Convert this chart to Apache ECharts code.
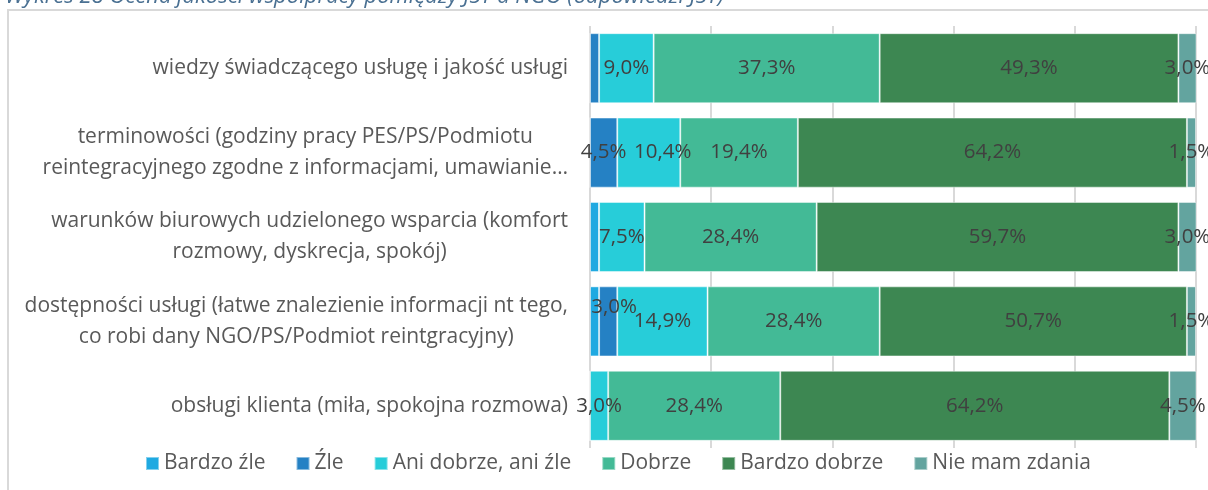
<!DOCTYPE html>
<html>
<head>
<meta charset="utf-8">
<script src="https://cdn.jsdelivr.net/npm/echarts@6/dist/echarts.min.js"></script>
<style>
  html, body { margin: 0; padding: 0; background: #fff; }
  #chart { width: 1208px; height: 490px; }
</style>
</head>
<body>
<div id="chart"></div>
<script>
// kategorie (od góry)
var categories = [
  'wiedzy świadczącego usługę i jakość usługi',
  'terminowości (godziny pracy PES/PS/Podmiotu\nreintegracyjnego zgodne z informacjami, umawianie…',
  'warunków biurowych udzielonego wsparcia (komfort\nrozmowy, dyskrecja, spokój)',
  'dostępności usługi (łatwe znalezienie informacji nt tego,\nco robi dany NGO/PS/Podmiot reintgracyjny)',
  'obsługi klienta (miła, spokojna rozmowa)'
];
var seriesNames = ['Bardzo źle', 'Źle', 'Ani dobrze, ani źle', 'Dobrze', 'Bardzo dobrze', 'Nie mam zdania'];
var bardzoZle = [0, 0, 1.5, 1.5, 0];
var zle = [1.5, 4.5, 0, 3.0, 0];
var aniDobrzeAniZle = [9.0, 10.4, 7.5, 14.9, 3.0];
var dobrze = [37.3, 19.4, 28.4, 28.4, 28.4];
var bardzoDobrze = [49.3, 64.2, 59.7, 50.7, 64.2];
var nieMamZdania = [3.0, 1.5, 3.0, 1.5, 4.5];
var xTicks = [0, 20, 40, 60, 80, 100];

var colors = ['#1FA9E1', '#2581C4', '#27CDD9', '#43BA96', '#3D8752', '#63A49F'];
var allData = [bardzoZle, zle, aniDobrzeAniZle, dobrze, bardzoDobrze, nieMamZdania];
var font = '"Open Sans", sans-serif';

var series = allData.map(function (arr, si) {
    return {
        name: seriesNames[si],
        type: 'bar',
        stack: 'total',
        barCategoryGap: '17%',
        itemStyle: { color: colors[si], borderColor: 'rgba(255,255,255,0.45)', borderWidth: 1 },
        data: arr.map(function (v, ci) {
            var item = { value: v };
            // etykiety 1,5% dla pierwszych dwóch kategorii nie są pokazane
            if (v === 0 || (si < 2 && v < 2)) {
                item.label = { show: false };
            }
            // przesunięte etykiety, jak w oryginale
            if (si === 1 && ci === 3) {
                item.label = { offset: [6, -14] };
            }
            if (si === 2 && ci === 1) {
                item.label = { offset: [14, 0] };
            }
            return item;
        }),
        label: {
            show: true,
            position: 'inside',
            color: '#404040',
            fontSize: 20.5,
            fontFamily: font,
            formatter: function (p) {
                return p.value.toFixed(1).replace('.', ',') + '%';
            }
        }
    };
});

var chart = echarts.init(document.getElementById('chart'));
chart.setOption({
    animation: false,
    color: colors,
    title: {
        text: 'Wykres 28 Ocena jakości współpracy pomiędzy JST a NGO (odpowiedzi JST)',
        left: 0,
        top: -19,
        textStyle: { fontStyle: 'italic', fontWeight: 'normal', fontSize: 22, color: '#4A7092', fontFamily: font }
    },
    graphic: [{
        type: 'rect',
        shape: { x: 8, y: 10, width: 1400, height: 700 },
        style: { fill: 'none', stroke: '#d9d9d9', lineWidth: 2 },
        silent: true
    }],
    grid: { left: 590, right: 12, top: 26, bottom: 42, containLabel: false },
    legend: {
        data: seriesNames,
        left: 140,
        top: 448,
        icon: 'rect',
        itemWidth: 13,
        itemHeight: 13,
        itemGap: 30,
        textStyle: { fontSize: 21, color: '#595959', fontFamily: font }
    },
    xAxis: {
        type: 'value',
        min: xTicks[0],
        max: xTicks[xTicks.length - 1],
        interval: 20,
        axisLabel: { show: false },
        axisLine: { show: false },
        axisTick: { show: false },
        splitLine: { show: true, lineStyle: { color: '#d9d9d9', width: 2 } }
    },
    yAxis: {
        type: 'category',
        inverse: true,
        data: categories,
        axisLine: { show: false },
        axisTick: { show: false },
        axisLabel: {
            margin: 22,
            formatter: function (v) {
                return v.split('\n').map(function (l) { return '{c|' + l + '}'; }).join('\n');
            },
            rich: {
                c: { align: 'center', fontSize: 21, lineHeight: 31, color: '#595959', fontFamily: font }
            }
        }
    },
    series: series
});
</script>
</body>
</html>
